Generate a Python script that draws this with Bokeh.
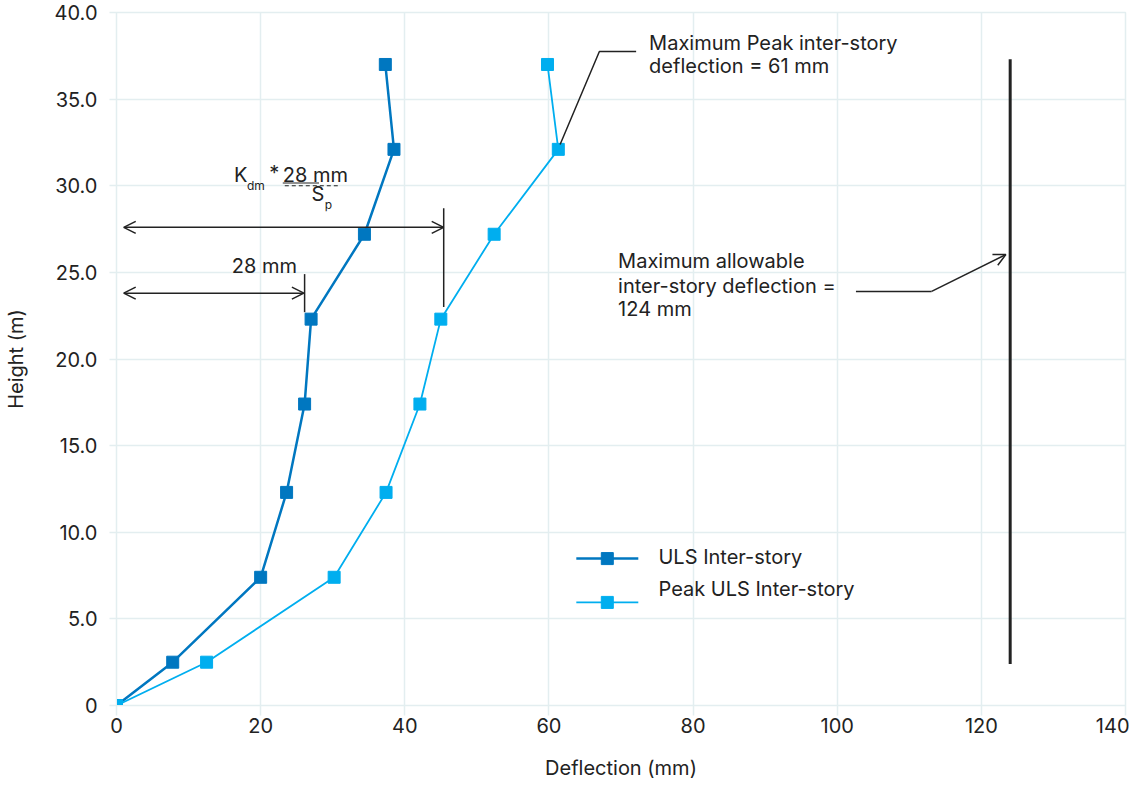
from bokeh.plotting import figure
from bokeh.models import Arrow, OpenHead, FixedTicker, Range1d
from bokeh.core.properties import value
from bokeh.embed import file_html
from bokeh.resources import INLINE

# ---- data ----
heights = [0, 2.5, 7.4, 12.3, 17.4, 22.3, 27.2, 32.1, 37.0]
uls_deflection = [0, 7.8, 20.0, 23.6, 26.1, 27.0, 34.4, 38.5, 37.3]
peak_deflection = [0, 12.5, 30.2, 37.4, 42.1, 45.0, 52.4, 61.3, 59.8]
series_names = ["ULS Inter-story", "Peak ULS Inter-story"]
x_ticks = [0, 20, 40, 60, 80, 100, 120, 140]
y_ticks = [0, 5, 10, 15, 20, 25, 30, 35, 40]
y_tick_labels = ["0", "5.0", "10.0", "15.0", "20.0", "25.0", "30.0", "35.0", "40.0"]
allowable_limit = 124
peak_limit_label = 61
dim_28 = 28

FONT = "Inter"
TXT = "#222222"
GRID = "#e3eef0"
DARK = "#0077c0"
LIGHT = "#00aeef"

p = figure(width=1129, height=784, output_backend="svg", toolbar_location=None,
           x_range=Range1d(0, 140), y_range=Range1d(0, 40),
           min_border_left=115, min_border_right=4, min_border_top=12, min_border_bottom=79)
p.background_fill_color = "white"
p.border_fill_color = "white"
p.outline_line_color = GRID
p.outline_line_width = 1.5

p.xaxis.ticker = FixedTicker(ticks=x_ticks)
p.yaxis.ticker = FixedTicker(ticks=y_ticks)
p.yaxis.major_label_overrides = {t: l for t, l in zip(y_ticks, y_tick_labels)}
for ax in (p.xaxis, p.yaxis):
    ax.axis_line_color = GRID
    ax.major_tick_line_color = GRID
    ax.major_tick_line_width = 1.5
    ax.minor_tick_line_color = None
    ax.major_tick_in = 0
    ax.major_label_text_font = FONT
    ax.major_label_text_font_size = "20px"
    ax.major_label_text_color = TXT
    ax.axis_label_text_font = FONT
    ax.axis_label_text_font_size = "20px"
    ax.axis_label_text_font_style = "normal"
    ax.axis_label_text_color = TXT
p.xaxis.major_tick_out = 10
p.yaxis.major_tick_out = 7
p.xaxis.major_label_standoff = 2
p.yaxis.major_label_standoff = 12
p.xaxis.axis_label = "Deflection (mm)"
p.yaxis.axis_label = "Height (m)"
p.xaxis.axis_label_standoff = 20
p.yaxis.axis_label_standoff = 24
p.grid.grid_line_color = GRID
p.grid.grid_line_width = 1.5

# ---- series ----
p.line(uls_deflection, heights, color=DARK, line_width=2.5)
p.scatter(uls_deflection, heights, marker="square", size=12, color=DARK)
p.line(peak_deflection, heights, color=LIGHT, line_width=1.8)
p.scatter(peak_deflection, heights, marker="square", size=12, color=LIGHT)

# ---- allowable limit line ----
p.line([allowable_limit, allowable_limit], [2.4, 37.3], color=TXT, line_width=3)

def txt(x, y, s, size="20px", align="left"):
    p.text([x], [y], [s], text_font=value(FONT), text_font_size=size, text_color=TXT,
           text_align=align, text_baseline="middle")

# ---- legend (manual) ----
for yy, col, lw in ((8.48, DARK, 2.5), (5.95, LIGHT, 1.8)):
    p.line([63.8, 72.4], [yy, yy], color=col, line_width=lw)
    p.scatter([68.1], [yy], marker="square", size=12, color=col)
txt(75.2, 8.6, series_names[0])
txt(75.2, 6.75, series_names[1])

# ---- peak annotation ----
p.line([61.55, 67.0, 72.1], [32.38, 37.75, 37.75], color=TXT, line_width=1.5)
txt(73.9, 38.26, "Maximum Peak inter-story")
txt(73.9, 36.9, f"deflection = {peak_limit_label} mm")

# ---- allowable annotation ----
txt(69.6, 25.65, "Maximum allowable")
txt(69.6, 24.2, "inter-story deflection =")
txt(69.6, 22.86, f"{allowable_limit} mm")
p.line([102.6, 113.1], [23.9, 23.9], color=TXT, line_width=1.5)
p.add_layout(Arrow(end=OpenHead(size=12, line_color=TXT, line_width=1.5),
                   x_start=113.1, y_start=23.9, x_end=123.4, y_end=26.03,
                   line_color=TXT, line_width=1.5))

# ---- dimension arrows ----
p.add_layout(Arrow(start=OpenHead(size=12, line_color=TXT, line_width=1.5),
                   end=OpenHead(size=12, line_color=TXT, line_width=1.5),
                   x_start=1.0, y_start=23.8, x_end=26.0, y_end=23.8,
                   line_color=TXT, line_width=1.5))
p.line([26.1, 26.1], [22.7, 24.9], color=TXT, line_width=1.5)
txt(16.0, 25.36, f"{dim_28} mm")

p.add_layout(Arrow(start=OpenHead(size=12, line_color=TXT, line_width=1.5),
                   end=OpenHead(size=12, line_color=TXT, line_width=1.5),
                   x_start=1.0, y_start=27.6, x_end=45.4, y_end=27.6,
                   line_color=TXT, line_width=1.5))
p.line([45.4, 45.4], [23.0, 28.7], color=TXT, line_width=1.5)

# formula Kdm * 28 mm / Sp
txt(16.3, 30.6, "K")
txt(18.1, 30.0, "dm", size="12px")
txt(21.2, 30.75, "*")
txt(23.07, 30.6, f"{dim_28} mm")
p.line([23.07, 28.1], [30.16, 30.16], color=TXT, line_width=1.2)
p.line([23.35, 30.7], [30.0, 30.0], color=TXT, line_width=1.2, line_dash="4 3")
txt(27.05, 29.5, "S")
txt(28.9, 28.9, "p", size="12px")

open("out.html", "w").write(file_html(p, INLINE))
